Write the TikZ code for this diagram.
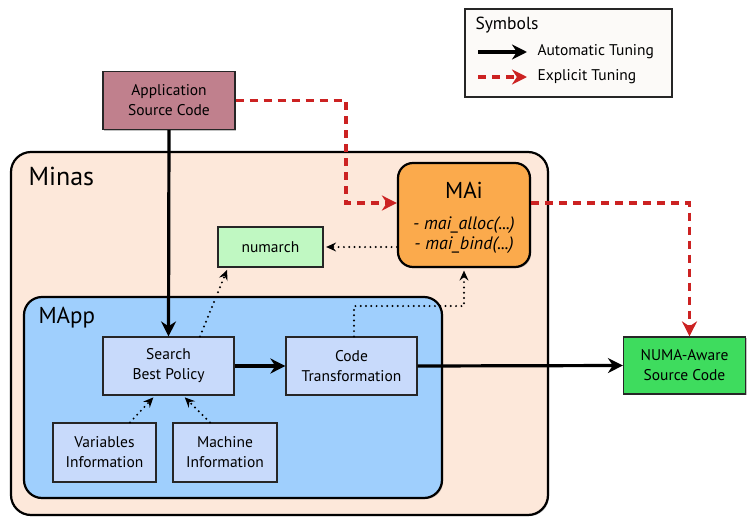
\documentclass[tikz,border=0pt]{standalone}
\usepackage{fontspec}
\setmainfont{PT Sans}
\usetikzlibrary{arrows.meta,shadows,positioning}
\definecolor{appfill}{RGB}{192,128,141}
\definecolor{minasfill}{RGB}{253,232,218}
\definecolor{maifill}{RGB}{251,170,76}
\definecolor{numarchfill}{RGB}{192,248,194}
\definecolor{mappfill}{RGB}{159,207,253}
\definecolor{stepfill}{RGB}{200,218,251}
\definecolor{numafill}{RGB}{62,220,94}
\definecolor{tuningred}{RGB}{204,34,34}
\definecolor{legendfill}{RGB}{252,250,248}
\tikzset{
  softshadow/.style={drop shadow={shadow xshift=1.2pt,shadow yshift=-1.2pt,opacity=0.35,fill=black!70}},
  plainbox/.style={draw=black!85,line width=1.2pt,rectangle,align=center,inner sep=2pt,
    font=\fontsize{15.5}{20}\selectfont,softshadow},
  stepbox/.style={plainbox,fill=stepfill},
  container/.style={draw=black,line width=2.2pt,rectangle,rounded corners=#1},
  automatic/.style={line width=3.2pt,-{Stealth[length=15pt,width=15pt]}},
  explicit/.style={tuningred,line width=3.4pt,dash pattern=on 8pt off 6pt,
    -{Stealth[length=15pt,width=15pt]}},
  uses/.style={line width=2.2pt,line cap=round,dash pattern=on 0pt off 5.3pt,
    -{Stealth[length=10pt,width=9pt,inset=3.5pt]},shorten >=2.5pt},
}
\begin{document}
\begin{tikzpicture}[x=1pt,y=-1pt]
\useasboundingbox (0,0) rectangle (748,517);

% outer framework and its sub-component
\node[container=20pt,fill=minasfill,minimum width=537pt,minimum height=363pt,softshadow] (minas) at (279.5,333.5) {};
\node[anchor=west,font=\fontsize{26}{30}\selectfont] (minaslabel) at (25,176) {Minas};

\node[container=18pt,fill=mappfill,minimum width=418pt,minimum height=201pt,softshadow] (mapp) at (233,397.5) {};
\node[anchor=west,font=\fontsize{23}{27}\selectfont] (mapplabel) at (35,318) {MApp};

% boxes
\node[plainbox,fill=appfill,minimum width=132pt,minimum height=58pt] (app) at (169,100.5) {Application\\Source Code};

\node[container=15pt,fill=maifill,minimum width=132pt,minimum height=104pt,softshadow] (mai) at (464,215) {};
\node[font=\fontsize{23}{27}\selectfont] (mailabel) at (464,190) {MAi};
\node[align=center,font=\fontsize{18}{20}\itshape] (maifuncs) at (464,235) {- mai\_alloc(...)\\- mai\_bind(...)};

\node[plainbox,fill=numarchfill,minimum width=105pt,minimum height=40pt] (numarch) at (270.5,247) {numarch};

\node[stepbox,minimum width=131pt,minimum height=58pt] (search) at (168.5,366) {Search\\Best Policy};
\node[stepbox,minimum width=131pt,minimum height=58pt] (code) at (351.5,366) {Code\\Transformation};
\node[stepbox,minimum width=103pt,minimum height=59pt] (vars) at (104.5,452.5) {Variables\\Information};
\node[stepbox,minimum width=104pt,minimum height=59pt] (mach) at (225,452.5) {Machine\\Information};

\node[plainbox,fill=numafill,minimum width=122pt,minimum height=57pt] (numa) at (684.5,365.5) {NUMA-Aware\\Source Code};

% automatic tuning path
\draw[automatic] (app.south) -- (search.north);
\draw[automatic] (search.east) -- (code.west);
\draw[automatic] (code.east) -- (numa.west);

% explicit tuning path
\coordinate (bendx) at (346,0);
\draw[explicit] (app.east) -- (app.east -| bendx) |- ([yshift=12pt]mai.west);
\draw[explicit] ([yshift=12pt]mai.east) -| ([xshift=5pt]numa.north);

% dependencies
\draw[uses] ([yshift=-32pt]mai.west) -- (numarch.east);
\draw[uses] ([xshift=31.5pt]search.north) -- ([xshift=-42.5pt]numarch.south);
\coordinate (bendc) at (464,306);
\draw[uses] ([xshift=2.5pt]code.north) |- (bendc) -- (mai.south);
\draw[uses] ([xshift=25.5pt]vars.north) -- ([xshift=-13.5pt]search.south);
\draw[uses] ([xshift=-15pt]mach.north) -- ([xshift=14.5pt]search.south);

% legend
\node[draw=black!85,line width=1.2pt,fill=legendfill,minimum width=207pt,minimum height=88pt,softshadow] (legend) at (568.5,53) {};
\node[anchor=west,font=\fontsize{17.5}{20}\selectfont] (legtitle) at (472,25) {Symbols};
\coordinate (autoA) at (478,52);
\coordinate (autoB) at (527,52);
\draw[automatic] (autoA) -- (autoB);
\node[anchor=west,font=\fontsize{15.5}{18}\selectfont] (autolabel) at (534,52) {Automatic Tuning};
\coordinate (explA) at (478,77);
\coordinate (explB) at (527,77);
\draw[explicit] (explA) -- (explB);
\node[anchor=west,font=\fontsize{15.5}{18}\selectfont] (expllabel) at (534,77) {Explicit Tuning};
\end{tikzpicture}
\end{document}
